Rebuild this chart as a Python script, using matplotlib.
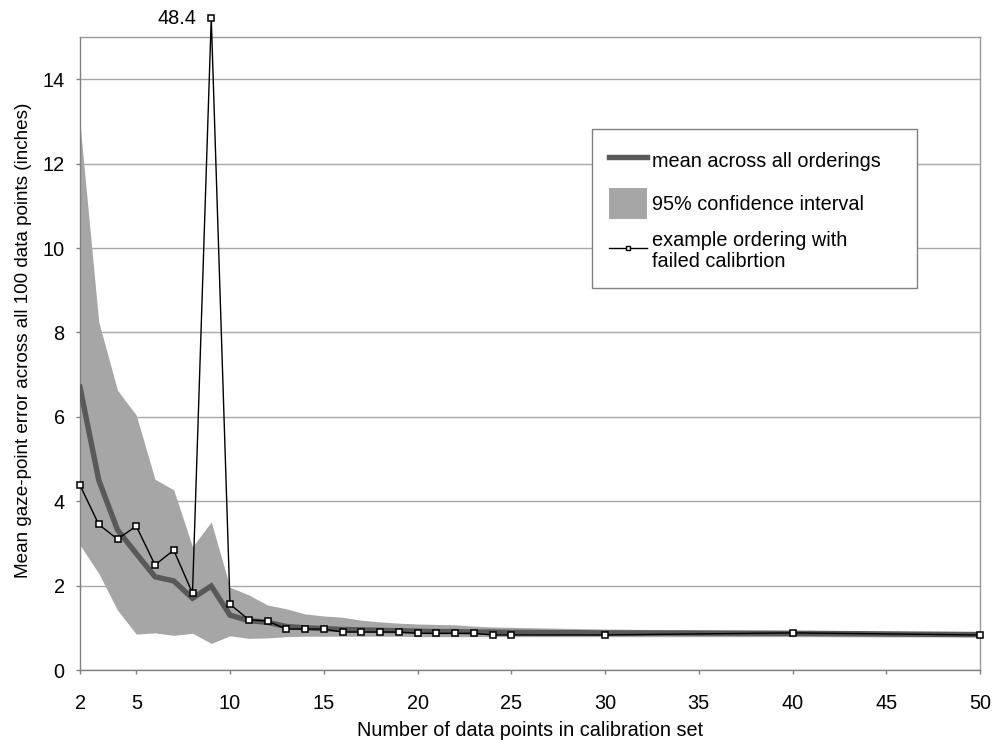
import numpy as np
import matplotlib
matplotlib.use("Agg")
import matplotlib.pyplot as plt
from matplotlib.patches import Patch
from matplotlib.lines import Line2D

plt.rcParams['font.family'] = ['Liberation Sans', 'DejaVu Sans']

# ---- data ----
n_points = [2, 3, 4, 5, 6, 7, 8, 9, 10, 11, 12, 13, 14, 15, 16, 17, 18, 19, 20,
            21, 22, 23, 24, 25, 30, 40, 50]
mean_err = [6.70, 4.50, 3.32, 2.76, 2.21, 2.11, 1.70, 1.99, 1.30, 1.17, 1.13,
            1.03, 1.00, 0.98, 0.96, 0.95, 0.94, 0.93, 0.92, 0.91, 0.91, 0.90,
            0.90, 0.89, 0.88, 0.87, 0.84]
ci_upper = [12.95, 8.25, 6.63, 6.04, 4.52, 4.27, 2.92, 3.51, 1.96, 1.78, 1.54,
            1.45, 1.33, 1.28, 1.25, 1.18, 1.14, 1.11, 1.09, 1.08, 1.07, 1.04,
            1.02, 1.01, 0.97, 0.93, 0.88]
ci_lower = [2.96, 2.29, 1.42, 0.85, 0.88, 0.82, 0.87, 0.63, 0.81, 0.75, 0.76,
            0.79, 0.80, 0.80, 0.80, 0.80, 0.80, 0.80, 0.79, 0.79, 0.79, 0.79,
            0.79, 0.79, 0.79, 0.79, 0.78]
example_err = [4.38, 3.45, 3.10, 3.41, 2.49, 2.84, 1.82, 48.4, 1.56, 1.19, 1.16,
               0.97, 0.97, 0.97, 0.90, 0.90, 0.90, 0.90, 0.87, 0.87, 0.87, 0.87,
               0.83, 0.83, 0.83, 0.88, 0.83]
x_ticks = [2, 5, 10, 15, 20, 25, 30, 35, 40, 45, 50]
y_ticks = [0, 2, 4, 6, 8, 10, 12, 14]

labels = ["mean across all orderings", "95% confidence interval",
          "example ordering with\nfailed calibrtion"]
xlabel = "Number of data points in calibration set"
ylabel = "Mean gaze-point error across all 100 data points (inches)"

# ---- style ----
YMAX = 15.0
DISPLAY_CAP = 15.45
band_color = "#a6a6a6"
mean_color = "#595959"
grid_color = "#a8a8a8"
frame_color = "#808080"
FS = 14.3

fig = plt.figure(figsize=(9.96, 7.55), dpi=100)
ax = fig.add_axes([80/996, 85/755, 900/996, 633/755])

ax.fill_between(n_points, ci_lower, ci_upper, color=band_color, lw=0, zorder=2)
ax.plot(n_points, mean_err, color=mean_color, lw=3.9, zorder=3,
        solid_joinstyle='miter')
ex = np.asarray(example_err, dtype=float)
ex_disp = np.minimum(ex, DISPLAY_CAP)
ax.plot(n_points, ex_disp, color="black", lw=1.0, marker="s", ms=4.5,
        mfc="white", mec="black", mew=1.1, zorder=4, clip_on=False)

# annotate the off-scale value
imax = int(np.argmax(ex))
ax.annotate(f"{ex[imax]:.1f}", xy=(n_points[imax], ex_disp[imax]),
            xytext=(-11, 0), textcoords="offset points", ha="right",
            va="center", fontsize=FS, annotation_clip=False)

ax.set_xlim(2, 50)
ax.set_ylim(0, YMAX)
ax.set_xticks(x_ticks)
ax.set_yticks(y_ticks)
ax.yaxis.grid(True, color=grid_color, lw=1.0)
ax.set_axisbelow(True)
for s in ax.spines.values():
    s.set_color("#999999")
    s.set_linewidth(1.0)
ax.spines['left'].set_color(frame_color)
ax.spines['bottom'].set_color(frame_color)
ax.tick_params(axis='both', direction='out', length=3, color=frame_color,
               labelsize=FS, width=1.0)
ax.tick_params(axis='x', pad=14)
ax.tick_params(axis='y', pad=8)
ax.set_xlabel(xlabel, fontsize=FS, labelpad=6)
ax.set_ylabel(ylabel, fontsize=13.6)
ax.yaxis.set_label_coords((32 - 80) / 900, (670 - 340) / 633)

handles = [Line2D([0], [0], color=mean_color, lw=3.9),
           Patch(facecolor=band_color, edgecolor='none'),
           Line2D([0], [0], color='black', lw=1.0, marker='s', ms=3,
                  mfc='white', mec='black')]
leg = ax.legend(handles, labels, loc='upper left',
                bbox_to_anchor=((592 - 80) / 900, (670 - 285) / 633,
                                (917 - 592) / 900, (285 - 129) / 633),
                mode='expand',
                fontsize=FS, frameon=True, fancybox=False, shadow=False,
                handlelength=1.9, handleheight=1.96, handletextpad=0.25,
                labelspacing=0.62, borderpad=0.85, borderaxespad=0,
                markerscale=1.0)
for t in leg.get_texts():
    t.set_linespacing(1.15)
leg.get_frame().set_edgecolor(frame_color)
leg.get_frame().set_linewidth(1.0)
leg.get_frame().set_alpha(1)

fig.savefig("out.png", dpi=100)
